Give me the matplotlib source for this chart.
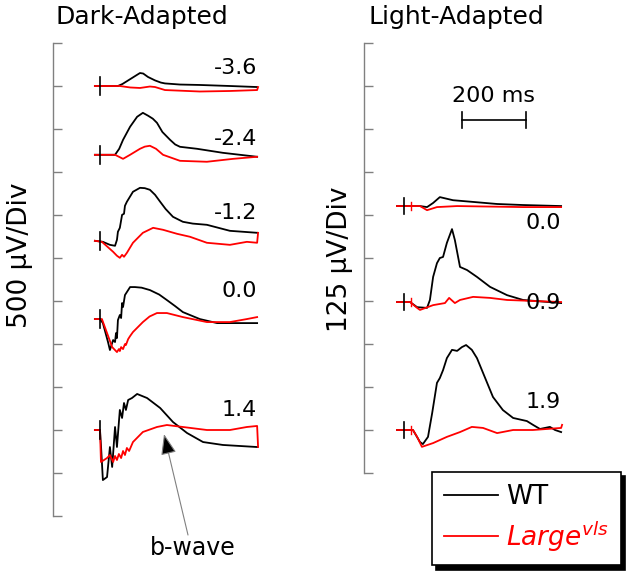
"""ERG traces, dark- and light-adapted, WT vs Large(vls)"""
import matplotlib
matplotlib.use('Agg')
import matplotlib.pyplot as plt
from matplotlib.lines import Line2D

# ---- data (time in ms from flash, amplitude in uV from trace baseline) ----
dark_labels = ['-3.6', '-2.4', '-1.2', '0.0', '1.4']
dark_offsets = [5000, 4200, 3200, 2290, 1000]

d36_wt_t = [-16, 56, 70, 85, 100, 115, 125, 135, 150, 172, 190, 203, 250, 312, 406, 491]
d36_wt_a = [0, 0, 23, 58, 93, 128, 151, 145, 105, 65, 40, 30, 17, 12, 0, -12]
d36_lg_t = [-16, 62, 94, 125, 156, 172, 203, 312, 406, 491, 494]
d36_lg_a = [0, 0, -17, -23, -6, -12, -47, -64, -58, -47, -12]

d24_wt_t = [-16, 47, 60, 72, 94, 116, 134, 150, 165, 178, 195, 219, 235, 250, 303, 384, 491]
d24_wt_a = [0, 0, 70, 174, 326, 442, 488, 455, 420, 372, 265, 174, 120, 93, 70, 23, -23]
d24_lg_t = [-16, 47, 72, 94, 125, 140, 156, 175, 197, 250, 334, 416, 491]
d24_lg_a = [0, 0, -47, 0, 70, 95, 105, 70, 0, -70, -81, -47, -23]

d12_wt_t = [-16, 9, 31, 47, 53, 56, 62, 69, 75, 78, 84, 103, 125, 140, 156, 172,
            188, 205, 228, 259, 290, 334, 406, 491]
d12_wt_a = [0, -12, -47, -58, 12, 105, 151, 302, 314, 407, 454, 570, 616, 612,
            593, 535, 454, 370, 279, 221, 200, 186, 116, 93]
d12_lg_t = [-16, 6, 41, 53, 62, 69, 75, 84, 103, 134, 166, 197, 241, 281,
            334, 406, 459, 491, 494]
d12_lg_a = [0, -12, -128, -174, -198, -163, -186, -140, -23, 93, 151, 128,
            81, 47, -23, -47, -12, -23, 93]

d00_wt_t = [-16, 0, 9, 25, 31, 41, 47, 50, 53, 56, 62, 66, 69, 72, 78, 94,
            109, 130, 156, 185, 209, 235, 259, 312, 366, 491]
d00_wt_a = [0, 0, -47, -267, -360, -244, -267, -163, -221, -12, 47, 12, 186,
            140, 279, 372, 372, 365, 337, 285, 221, 150, 81, 0, -47, -47]
d00_lg_t = [-16, 6, 22, 38, 53, 59, 62, 66, 72, 78, 81, 88, 94, 103, 134,
            155, 178, 209, 259, 334, 406, 459, 491]
d00_lg_a = [0, 0, -163, -326, -384, -349, -372, -326, -349, -291, -302,
            -233, -198, -151, -35, 30, 70, 70, 23, -35, -35, 0, 23]

d14_wt_t = [-16, 0, 3, 9, 22, 31, 38, 47, 53, 62, 69, 75, 81, 88, 100, 116,
            147, 188, 228, 272, 322, 384, 491]
d14_wt_a = [0, 0, -174, -582, -547, -198, -430, 35, -198, 233, 140, 314,
            233, 349, 372, 419, 372, 256, 93, -35, -140, -174, -198]
d14_lg_t = [-16, 0, 3, 22, 31, 41, 47, 53, 59, 66, 72, 78, 84, 91, 103, 134,
            178, 209, 259, 334, 406, 459, 491, 494]
d14_lg_a = [0, 0, -372, -326, -291, -372, -302, -349, -279, -326, -244,
            -291, -209, -244, -140, -23, 35, 58, 35, 0, 0, 35, 47, -198]

light_labels = ['0.0', '0.9', '1.9']
light_offsets = [776, 497, 125]

l00_wt_t = [-22, 50, 72, 91, 112, 153, 216, 291, 372, 491]
l00_wt_a = [0, 0, -3, 9, 26, 17, 12, 6, 3, 0]
l00_lg_t = [-22, 50, 72, 103, 166, 372, 491]
l00_lg_a = [0, 0, -12, -3, 0, -3, -3]

l09_wt_t = [-22, 19, 41, 72, 81, 91, 103, 112, 122, 134, 150, 159, 175, 197,
            228, 269, 322, 372, 491]
l09_wt_a = [0, 0, -15, -17, 6, 73, 113, 128, 131, 172, 212, 180, 102, 93,
            73, 44, 20, 6, -3]
l09_lg_t = [-22, 19, 41, 50, 91, 128, 141, 159, 175, 216, 269, 322, 491]
l09_lg_a = [0, 0, -17, -23, -9, -3, 12, -3, 6, 15, 12, 6, 0]

l19_wt_t = [-22, 28, 50, 59, 75, 88, 103, 112, 122, 134, 150, 166, 181, 194,
            212, 228, 247, 278, 309, 341, 384, 403, 425, 456, 472, 491]
l19_wt_a = [0, 0, -35, -41, -20, 49, 137, 151, 174, 209, 233, 230, 241, 247,
            233, 209, 166, 96, 58, 35, 26, 15, 3, 9, 0, -6]
l19_lg_t = [-22, 28, 41, 56, 91, 134, 175, 212, 247, 291, 341, 403, 491, 494]
l19_lg_a = [0, 0, -20, -49, -38, -20, -6, 9, 6, -9, 0, 0, 6, 15]

dark_wt = [(d36_wt_t, d36_wt_a), (d24_wt_t, d24_wt_a), (d12_wt_t, d12_wt_a),
           (d00_wt_t, d00_wt_a), (d14_wt_t, d14_wt_a)]
dark_lg = [(d36_lg_t, d36_lg_a), (d24_lg_t, d24_lg_a), (d12_lg_t, d12_lg_a),
           (d00_lg_t, d00_lg_a), (d14_lg_t, d14_lg_a)]
light_wt = [(l00_wt_t, l00_wt_a), (l09_wt_t, l09_wt_a), (l19_wt_t, l19_wt_a)]
light_lg = [(l00_lg_t, l00_lg_a), (l09_lg_t, l09_lg_a), (l19_lg_t, l19_lg_a)]

# ---- layout ----
W, H = 635, 580
RED = '#ff0000'
LW = 1.3
plt.rcParams['font.family'] = ['DejaVu Sans']
plt.rcParams['mathtext.fontset'] = 'dejavusans'

dark_label_dy = [209, 184, 323, 326, 233]
light_label_dy = [-49, -3, 81]


def fig_box(x0, y0, x1, y1):
    """pixel box (top-left origin) -> figure rect"""
    return [x0 / W, 1 - y1 / H, (x1 - x0) / W, (y1 - y0) / H]


def style_axis(ax, ylim, step):
    ax.set_ylim(*ylim)
    n = int(round((ylim[1] - ylim[0]) / step))
    ax.set_yticks([ylim[0] + i * step for i in range(n + 1)])
    ax.set_yticklabels([])
    ax.tick_params(axis='y', direction='in', length=6.5, width=1, color='#808080')
    ax.set_xticks([])
    for s in ['top', 'right', 'bottom']:
        ax.spines[s].set_visible(False)
    ax.spines['left'].set_color('#808080')
    ax.spines['left'].set_linewidth(1)
    ax.patch.set_alpha(0)


def draw_traces(ax, wt, lg, offsets, labels, dys, stim_half, extra_tick=False):
    for (tw, aw), (tl, al), off, lab, dy in zip(wt, lg, offsets, labels, dys):
        ax.plot(tw, [a + off for a in aw], color='black', lw=LW)
        ax.plot(tl, [a + off for a in al], color=RED, lw=LW)
        ax.plot([0, 0], [off - stim_half, off + stim_half], color='black', lw=1.2)
        if extra_tick:
            ax.plot([22, 22], [off - stim_half * 0.5, off + stim_half * 0.5],
                    color=RED, lw=1.0)
        ax.text(491, off + dy, lab, ha='right', va='center', fontsize=16)


fig = plt.figure(figsize=(W / 100, H / 100), dpi=100)

axd = fig.add_axes(fig_box(53, 43, 300, 516))
axd.set_xlim((53 - 100) / 0.32, (300 - 100) / 0.32)
style_axis(axd, (0, 5500), 500)
draw_traces(axd, dark_wt, dark_lg, dark_offsets, dark_labels, dark_label_dy, 105)

axl = fig.add_axes(fig_box(364, 43, 635, 473))
axl.set_xlim((364 - 404) / 0.32, (635 - 404) / 0.32)
style_axis(axl, (0, 1250), 125)
draw_traces(axl, light_wt, light_lg, light_offsets, light_labels, light_label_dy,
            24, extra_tick=True)

# 200 ms scale bar
axl.plot([181, 381], [1026, 1026], color='black', lw=1.2)
for x in (181, 381):
    axl.plot([x, x], [1003, 1049], color='black', lw=1.2)
axl.text(281, 1096, '200 ms', ha='center', va='center', fontsize=16)

# b-wave arrow
axd.annotate('', xy=(200, 953), xytext=(275, -221), annotation_clip=False,
             arrowprops=dict(arrowstyle='-|>,head_length=0.8,head_width=0.3',
                             mutation_scale=16, ec='#808080', fc='black',
                             lw=0.8, shrinkA=0, shrinkB=0))
axd.text(291, -372, 'b-wave', ha='center', va='center', fontsize=17,
         clip_on=False)

fig.text(142 / W, 1 - 17 / H, 'Dark-Adapted', ha='center', va='center', fontsize=18)
fig.text(456 / W, 1 - 17 / H, 'Light-Adapted', ha='center', va='center', fontsize=18)
fig.text(20 / W, 1 - 255 / H, '500 \u03bcV/Div', ha='center', va='center',
         rotation=90, fontsize=19)
fig.text(340 / W, 1 - 259 / H, '125 \u03bcV/Div', ha='center', va='center',
         rotation=90, fontsize=19)

handles = [Line2D([], [], color='black', lw=LW), Line2D([], [], color=RED, lw=LW)]
leg = fig.legend(handles, ['WT', r'$Large^{vls}$'], loc='upper left',
                 bbox_to_anchor=(432 / W, 1 - 472 / H), borderaxespad=0,
                 frameon=True, fancybox=False, edgecolor='black', framealpha=1,
                 shadow={'ox': 3, 'oy': -3, 'color': 'black', 'alpha': 1},
                 fontsize=19, handlelength=2.05, handletextpad=0.3,
                 borderpad=0.45, labelspacing=0.35)
leg.get_frame().set_linewidth(1.2)
leg.get_texts()[1].set_color(RED)

fig.savefig('out.png', dpi=100)
